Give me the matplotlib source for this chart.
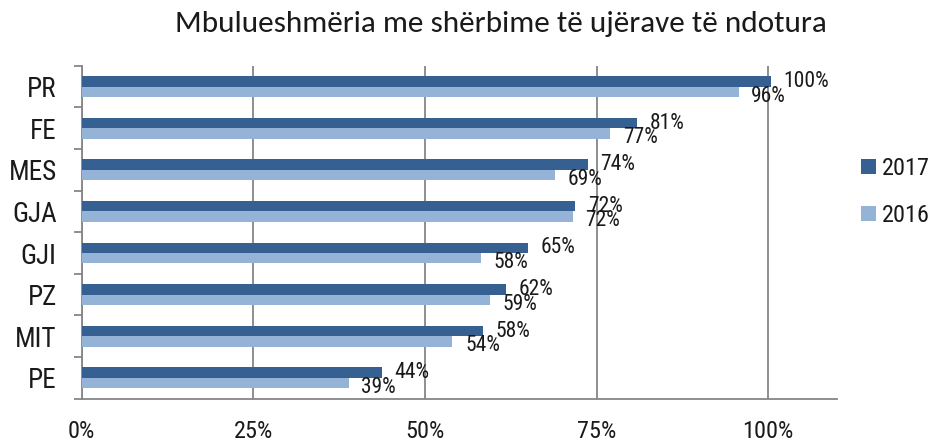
import matplotlib.pyplot as plt
from matplotlib import font_manager
import numpy as np

# Datos
categorias = ["PR", "FE", "MES", "GJA", "GJI", "PZ", "MIT", "PE"]
valores_2017 = [100.4, 80.9, 73.7, 71.9, 65.0, 61.8, 58.5, 43.7]
valores_2016 = [95.7, 77.0, 69.0, 71.5, 58.1, 59.4, 54.0, 38.9]
ticks_x = [0, 25, 50, 75, 100]
titulo = "Mbulueshmëria me shërbime të ujërave të ndotura"


def primera(candidatas):
    nombres = {f.name for f in font_manager.fontManager.ttflist}
    for c in candidatas:
        if c in nombres:
            return c
    return "DejaVu Sans"


narrow = primera(["Liberation Sans Narrow", "Arial Narrow", "Roboto Condensed",
                  "PT Sans Narrow", "Archivo Narrow"])
fuente_titulo = primera(["Carlito", "Calibri", "Lato", "Open Sans"])

oscuro = "#376092"
claro = "#95b3d7"
gris = "#868686"
texto = "#1a1a1a"

fig = plt.figure(figsize=(9.32, 4.42), dpi=100)
ax = fig.add_axes([0.0877, 0.098, 0.8103, 0.753])

y = np.arange(len(categorias))
h = 0.25
ax.barh(y - h / 2, valores_2017, height=h, color=oscuro, label="2017", zorder=3)
ax.barh(y + h / 2, valores_2016, height=h, color=claro, label="2016", zorder=3)

# etiquetas de valor a la derecha de cada barra
for yi, v in zip(y, valores_2017):
    ax.annotate(f"{v:.0f}%", (v, yi - h / 2), xytext=(9, 0), textcoords="offset points",
                ha="left", va="center", fontsize=15.5, family=narrow, color=texto)
for yi, v in zip(y, valores_2016):
    ax.annotate(f"{v:.0f}%", (v, yi + h / 2), xytext=(9, -3), textcoords="offset points",
                ha="left", va="center", fontsize=15.5, family=narrow, color=texto)

ax.set_xlim(0, 110)
ax.set_ylim(len(categorias) - 0.5, -0.5)
ax.set_xticks(ticks_x)
ax.set_xticklabels([f"{t}%" for t in ticks_x], family=narrow, fontsize=17.5, color=texto)
ax.set_yticks(y)
ax.set_yticklabels(categorias, family=narrow, fontsize=19.5, color=texto)
ax.set_yticks(np.arange(-0.5, len(categorias)), minor=True)
ax.tick_params(axis="y", which="major", length=0, pad=18)
ax.tick_params(axis="y", which="minor", length=6, color=gris, width=1.3)
ax.tick_params(axis="x", length=0, pad=15)

ax.grid(axis="x", color=gris, linewidth=1.3, zorder=0)
for lado in ["top", "right"]:
    ax.spines[lado].set_visible(False)
for lado in ["left", "bottom"]:
    ax.spines[lado].set_color(gris)
    ax.spines[lado].set_linewidth(1.3)

fig.text(0.5375, 0.946, titulo, ha="center", va="center", fontsize=22.5,
         family=fuente_titulo, color=texto)

leg = fig.legend(loc="center left", bbox_to_anchor=(0.9238, 0.566), frameon=False,
                 borderpad=0, borderaxespad=0,
                 prop={"family": narrow, "size": 17.5}, handlelength=0.62, handleheight=0.58,
                 handletextpad=0.23, labelspacing=1.0)
for t in leg.get_texts():
    t.set_color(texto)

plt.savefig("out.png", dpi=100)
